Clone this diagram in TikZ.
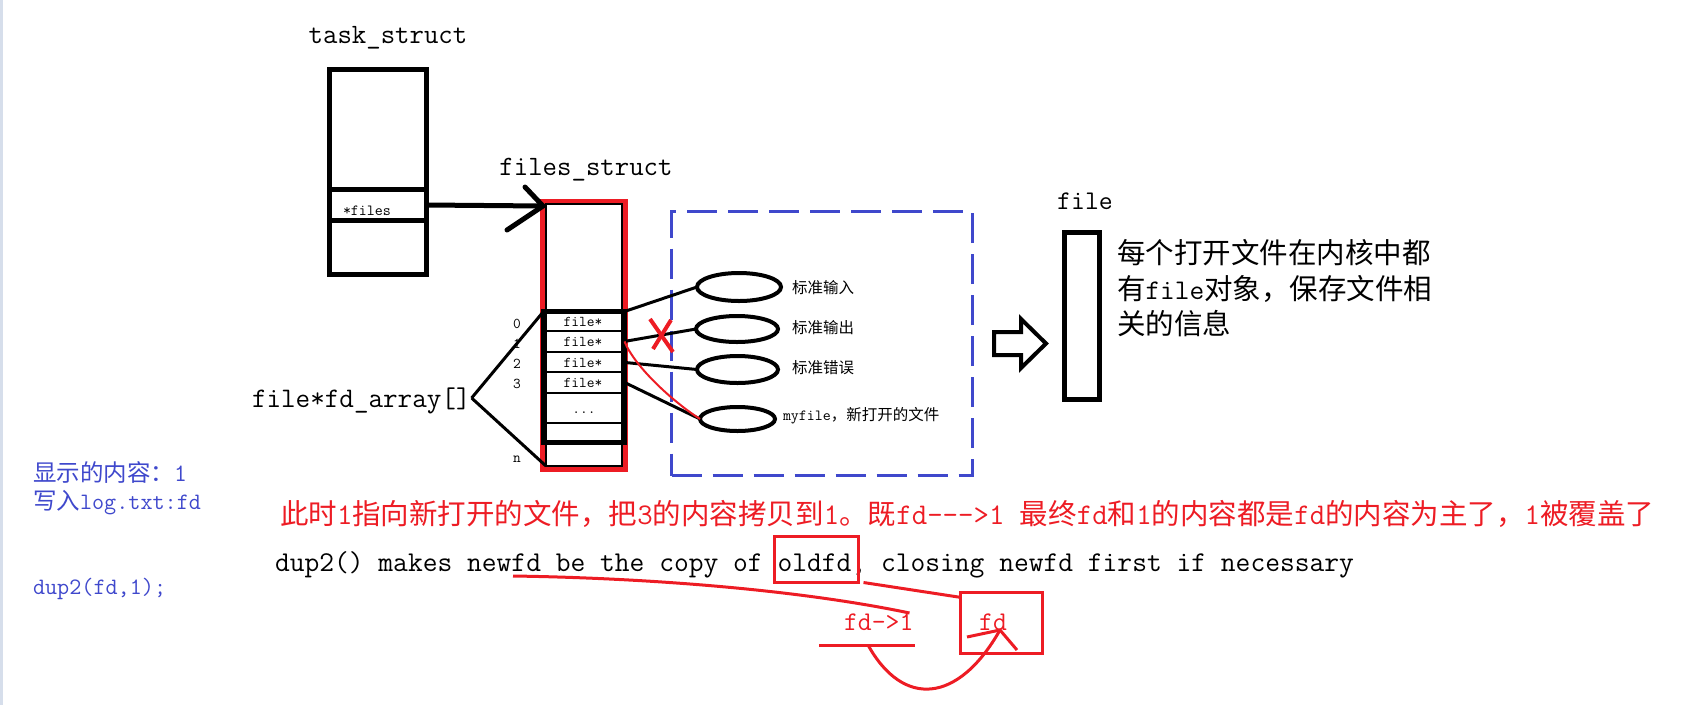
\documentclass[tikz,border=0pt]{standalone}
\usepackage{fontspec}
\newfontfamily\cjk{Noto Sans CJK SC}
\usetikzlibrary{shapes.geometric,calc}
\definecolor{pred}{RGB}{237,28,36}
\definecolor{pblue}{RGB}{63,72,204}
\definecolor{edgegray}{RGB}{214,222,235}
\newcommand{\tta}[1]{{\fontsize{30}{30}\selectfont\ttfamily #1}}
\begin{document}
\begin{tikzpicture}[x=1pt,y=-1pt,
  every node/.style={inner sep=0pt, outer sep=0pt},
  bbox/.style={draw, line width=5pt, rectangle},
  thinline/.style={line width=1.2pt},
  conn/.style={line width=3pt},
  ell/.style={draw, ellipse, line width=4pt},
  mono/.style={font=\fontsize{#1}{#1}\selectfont\ttfamily\frenchspacing},
  cjkf/.style={font=\fontsize{#1}{#1}\selectfont\cjk\frenchspacing},
  redline/.style={draw=pred, line width=3pt},
]
\useasboundingbox (0,0) rectangle (1704,705);
\fill[edgegray] (0,0) rectangle (3,705);

% task_struct
\node[mono=28, anchor=base] (tasklbl) at (388,43) {task\_struct};
\node[bbox, minimum width=97pt, minimum height=205pt] (task) at (378,172) {};
\node[minimum width=97pt, minimum height=31pt] (fcell) at (378,205) {};
\draw[line width=4.5pt] (fcell.north west) -- (fcell.north east);
\draw[line width=4.5pt] (fcell.south west) -- (fcell.south east);
\node[mono=15.5, anchor=base west] (fstar) at (343,215) {*files};

% files_struct
\node[mono=28, anchor=base] (fslbl) at (586,175) {files\_struct};
\node[draw=pred, line width=5pt, minimum width=83pt, minimum height=268pt] (fs) at (584,335.5) {};
\node[draw, thinline, minimum width=76pt, minimum height=262pt] (fsin) at (584,335) {};
\node[bbox, minimum width=81pt, minimum height=131pt] (arr) at (584,377) {};
\foreach \yy in {331,352,372,393,423} \draw[thinline] (546,\yy) -- (622,\yy);
\node[mono=15, anchor=base] (r0) at (583,326) {file*};
\node[mono=15, anchor=base] (r1) at (583,346) {file*};
\node[mono=15, anchor=base] (r2) at (583,367) {file*};
\node[mono=15, anchor=base] (r3) at (583,387) {file*};
\node[mono=15, anchor=base] (dots) at (584,413) {...};
\node[mono=15, anchor=base] (i0) at (517,328) {0};
\node[mono=15, anchor=base] (i1) at (517,348) {1};
\node[mono=15, anchor=base] (i2) at (517,368) {2};
\node[mono=15, anchor=base] (i3) at (517,388) {3};
\node[mono=15, anchor=base] (in) at (517,462) {n};

% arrow task -> files_struct
\coordinate (fstip) at (543,206);
\draw[line width=5pt] (fcell.east) -- (fstip);
\draw[line width=5pt, line cap=round] (525,187) -- (fstip) -- (507,230);

% fd_array label
\node[mono=28.3, anchor=base west] (fdarr) at (252,407) {file*fd\_array[]};
\coordinate (fa) at ($(fdarr.base east)+(1,-9)$);
\draw[conn] (fa) -- (arr.north west);
\draw[conn] (fa) -- (fsin.south west);

% dashed box with ellipses
\node[draw=pblue, line width=3pt, dash pattern=on 30pt off 11pt, minimum width=300.5pt, minimum height=264pt] (dbox) at (821.75,343.5) {};
\node[ell, minimum width=84pt, minimum height=28pt] (e1) at (739,287) {};
\node[ell, minimum width=82pt, minimum height=26pt] (e2) at (737,329) {};
\node[ell, minimum width=81pt, minimum height=27pt] (e3) at (737.5,369.5) {};
\node[ell, minimum width=75pt, minimum height=24pt] (e4) at (737.5,419) {};
\node[cjkf=15.5, anchor=west] (l1) at (792,288) {标准输入};
\node[cjkf=15.5, anchor=west] (l2) at (792,328) {标准输出};
\node[cjkf=15.5, anchor=west] (l3) at (792,368) {标准错误};
\node[cjkf=15.5, anchor=west] (l4) at (783,416) {{\ttfamily myfile}，新打开的文件};

\draw[conn] (arr.north east) -- (e1.west);
\draw[conn] (r1 -| arr.east) -- (e2.west);
\draw[conn] (r2 -| arr.east) -- (e3.west);
\draw[conn] (r3 -| arr.east) -- (e4.west);
\draw[pred, line width=2pt] (r1 -| arr.east) .. controls +(10,25) and +(-28,-18) .. (e4.west);
\draw[pred, line width=4pt] (650,319) -- (673,352);
\draw[pred, line width=4pt] (671,320) -- (653,349);

% hollow arrow
\draw[line width=4pt, line join=miter] (994,332) -- (1021,332) -- (1021,319) -- (1046,343.5) -- (1021,368) -- (1021,355) -- (994,355) -- cycle;

% file
\node[mono=27, anchor=base] (filelbl) at (1085,209) {file};
\node[bbox, minimum width=35pt, minimum height=167pt] (filebox) at (1082,316) {};
\node[cjkf=28.5, anchor=base west] (d1) at (1117,263) {每个打开文件在内核中都};
\node[cjkf=28.5, anchor=base west] (d2) at (1117,299) {有{\ttfamily file}对象，保存文件相};
\node[cjkf=28.5, anchor=base west] (d3) at (1117,334) {关的信息};

% left blue notes
\node[cjkf=23.5, text=pblue, anchor=base west] (show) at (33,481) {显示的内容：{\fontsize{25}{25}\selectfont\ttfamily 1}};
\node[cjkf=23.5, text=pblue, anchor=base west] (write) at (33,509) {写入{\ttfamily log.txt:fd}};
\node[mono=23.5, text=pblue, anchor=base west] (dupc) at (33,594) {dup2(fd,1);};

% red note
\node[cjkf=28.5, text=pred, anchor=base west] (note) at (280,524) {此时\tta{1}指向新打开的文件，把\tta{3}的内容拷贝到\tta{1}。既\tta{fd{-}{-}{-}>1 }最终\tta{fd}和\tta{1}的内容都是\tta{fd}的内容为主了，\tta{1}被覆盖了};

% dup2 sentence
\node[mono=28.7, anchor=base west] (dup) at (275,571) {dup2() makes newfd be the copy of oldfd, closing newfd first if necessary};
\node[redline, minimum width=84pt, minimum height=46pt] (oldbox) at (816.5,559.5) {};
\node[redline, minimum width=82pt, minimum height=61pt] (fdbox) at (1001.5,623) {};
\node[mono=27, text=pred, anchor=base] (fdt) at (993,630) {fd};
\node[mono=27, text=pred, anchor=base west] (fdto) at (844,630) {fd->1};

\draw[redline] ($(oldbox.south east)+(5,0)$) -- ($(fdbox.north west)+(1,5)$);
\coordinate (nfd) at (513,576);
\draw[redline] (nfd) .. controls (650,578) and (800,590) .. ($(fdto.base east)+(-4,-17)$);
\draw[redline] ($(fdto.base west)+(-25,15)$) -- ($(fdto.base east)+(1,15)$);
\coordinate (ctail) at (868,645);
\coordinate (tip) at (1000,630);
\draw[redline] (ctail) .. controls (903,708) and (958,704) .. (tip);
\draw[redline] (967,637) -- (tip) -- (1017,650);
\end{tikzpicture}
\end{document}
